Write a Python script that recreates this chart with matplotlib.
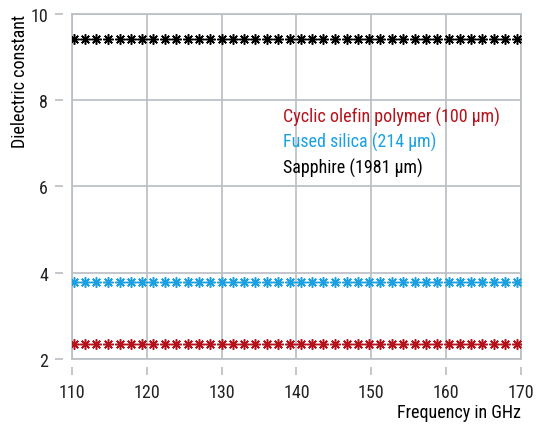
import matplotlib.pyplot as plt

plt.rcParams['font.family'] = ['Roboto Condensed', 'DejaVu Sans']

freq = [110.3, 111.8, 113.3, 114.8, 116.4, 117.9, 119.4, 120.9, 122.4, 123.9,
        125.5, 127.0, 128.5, 130.0, 131.5, 133.0, 134.5, 136.1, 137.6, 139.1,
        140.6, 142.1, 143.6, 145.1, 146.7, 148.2, 149.7, 151.2, 152.7, 154.2,
        155.8, 157.3, 158.8, 160.3, 161.8, 163.3, 164.8, 166.4, 167.9, 169.4]

cop = [2.35, 2.35, 2.35, 2.35, 2.35, 2.35, 2.35, 2.35, 2.35, 2.35,
       2.35, 2.35, 2.35, 2.35, 2.35, 2.35, 2.35, 2.35, 2.35, 2.35,
       2.35, 2.35, 2.35, 2.35, 2.35, 2.35, 2.35, 2.35, 2.35, 2.35,
       2.35, 2.35, 2.35, 2.35, 2.35, 2.35, 2.35, 2.35, 2.35, 2.35]

silica = [3.79, 3.79, 3.79, 3.79, 3.79, 3.79, 3.79, 3.79, 3.79, 3.79,
          3.79, 3.79, 3.79, 3.79, 3.79, 3.79, 3.79, 3.79, 3.79, 3.79,
          3.79, 3.79, 3.79, 3.79, 3.79, 3.79, 3.79, 3.79, 3.79, 3.79,
          3.79, 3.79, 3.79, 3.79, 3.79, 3.79, 3.79, 3.79, 3.79, 3.79]

sapphire = [9.41, 9.41, 9.41, 9.41, 9.41, 9.41, 9.41, 9.41, 9.41, 9.41,
            9.41, 9.41, 9.41, 9.41, 9.41, 9.41, 9.41, 9.41, 9.41, 9.41,
            9.41, 9.41, 9.41, 9.41, 9.41, 9.41, 9.41, 9.41, 9.41, 9.41,
            9.41, 9.41, 9.41, 9.41, 9.41, 9.41, 9.41, 9.41, 9.41, 9.41]

labels = ['Cyclic olefin polymer (100 \u00b5m)',
          'Fused silica (214 \u00b5m)',
          'Sapphire (1981 \u00b5m)']
colors = ['#b5121b', '#1ba1e2', '#000000']
xticks = [110, 120, 130, 140, 150, 160, 170]
yticks = [2, 4, 6, 8, 10]

grey = '#b8bec4'

fig = plt.figure(figsize=(5.39, 4.27), dpi=100)
ax = fig.add_axes([0.133, 0.157, 0.834, 0.808])

for ys, c, lab in zip([cop, silica, sapphire], colors, labels):
    ax.plot(freq, ys, linestyle='none', marker=(8, 2, 0), markersize=7.5,
            markeredgewidth=1.1, color=c, label=lab, zorder=3)

ax.set_xlim(110, 170)
ax.set_ylim(2, 10)
ax.set_xticks(xticks)
ax.set_yticks(yticks)
ax.grid(True, color=grey, linewidth=1.2)
ax.set_axisbelow(True)

# frame lines sit on the grid; the tick marks hang off with a small gap
for side in ['top', 'right']:
    ax.spines[side].set_color(grey)
    ax.spines[side].set_linewidth(1.2)
for side in ['bottom', 'left']:
    ax.spines[side].set_position(('outward', 6))
    ax.spines[side].set_visible(False)
ax.plot([110, 110], [2, 10], color=grey, linewidth=1.2, clip_on=False, zorder=1)
ax.plot([110, 170], [2, 2], color=grey, linewidth=1.2, clip_on=False, zorder=1)

ax.tick_params(direction='out', length=6, width=1.2, color=grey,
               labelsize=13, labelcolor='#222222', pad=5)

ax.set_ylabel('Dielectric constant', fontsize=13, loc='top', labelpad=1)
ax.set_xlabel('Frequency in GHz', fontsize=13, loc='right', labelpad=2)

leg = ax.legend(loc='upper left', bbox_to_anchor=(0.433, 0.777), frameon=False,
                handlelength=0, handletextpad=0, labelcolor='linecolor',
                fontsize=13, labelspacing=0.33)
for h in leg.legend_handles:
    h.set_visible(False)

fig.savefig('out.png', dpi=100)
